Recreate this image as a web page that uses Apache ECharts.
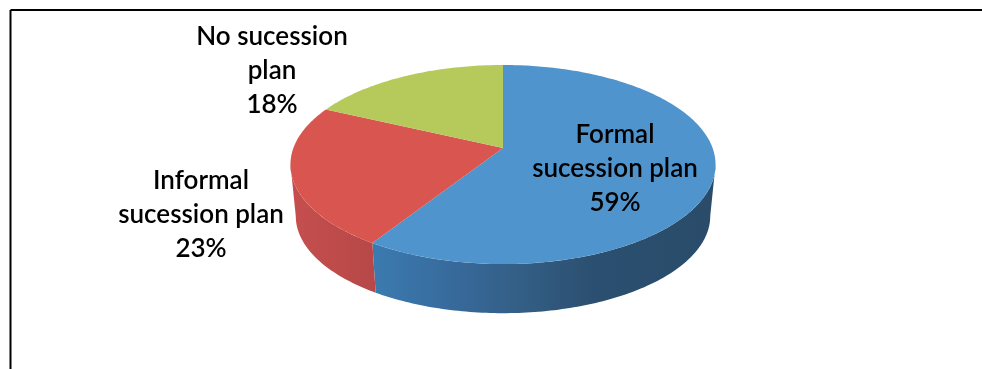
<!DOCTYPE html>
<html>
<head>
<meta charset="utf-8">
<style>html,body{margin:0;padding:0;background:#fff}#c{width:982px;height:369px;filter:blur(0.45px)}</style>
<script src="https://cdn.jsdelivr.net/npm/echarts@6/dist/echarts.min.js"></script>
</head>
<body>
<div id="c"></div>
<script>
const categories = ['Formal\nsucession plan', 'Informal\nsucession plan', 'No sucession\nplan'];
const percents = [59, 23, 18];
const topColors = ['#4f94cd', '#d95550', '#b5ca5b'];

// projective model of a tilted disc
const CX = 503, CY = 148, RX = 209.6, RY = 96.8, K = 0.166;
const SIDE_SCALE = 0.975, SIDE_DROP = 52;
const VIS_FROM = Math.acos(-K), VIS_TO = 2 * Math.PI - VIS_FROM;
const labelAnchors = [[615, 169], [201, 215], [272, 71]];

function project(a, lower) {
  const d = 1 + K * Math.cos(a);
  const x = RX * Math.sin(a) / d, y = -RY * Math.cos(a) / d;
  return lower
    ? [CX + x * SIDE_SCALE, CY + y * SIDE_SCALE + SIDE_DROP]
    : [CX + x, CY + y];
}
function arc(a0, a1, lower) {
  const n = Math.max(2, Math.ceil((a1 - a0) * 60)), pts = [];
  for (let i = 0; i <= n; i++) pts.push(project(a0 + (a1 - a0) * i / n, lower));
  return pts;
}
const total = percents.reduce((s, v) => s + v, 0);
let acc = 0;
const sliceData = percents.map((v, i) => {
  const s = acc; acc += v;
  return { name: categories[i], value: [s / total * 2 * Math.PI, acc / total * 2 * Math.PI, v] };
});
const sideFill = [
  new echarts.graphic.LinearGradient(372, 0, 716, 0, [
    { offset: 0, color: '#3b7bb0' },
    { offset: 0.25, color: '#37699a' },
    { offset: 0.42, color: '#345f86' },
    { offset: 0.65, color: '#2b4f70' },
    { offset: 1, color: '#2a4c6a' }
  ], true),
  new echarts.graphic.LinearGradient(291, 0, 375, 0, [
    { offset: 0, color: '#c54f4e' },
    { offset: 1, color: '#b64847' }
  ], true),
  '#8fa047'
];

const option = {
  animation: false,
  backgroundColor: '#ffffff',
  graphic: [
    { type: 'line', shape: { x1: 10.5, y1: 10, x2: 982, y2: 10 }, style: { stroke: '#000', lineWidth: 2 }, silent: true },
    { type: 'line', shape: { x1: 10.5, y1: 10, x2: 10.5, y2: 369 }, style: { stroke: '#000', lineWidth: 2 }, silent: true }
  ],
  series: [{
    type: 'custom',
    coordinateSystem: 'none',
    silent: true,
    data: sliceData,
    renderItem: function (params, api) {
      const i = params.dataIndex;
      const a0 = api.value(0), a1 = api.value(1), pct = api.value(2);
      const children = [];
      const v0 = Math.max(a0, VIS_FROM), v1 = Math.min(a1, VIS_TO);
      if (v1 > v0) {
        children.push({
          type: 'polygon', z2: 1,
          shape: { points: arc(v0, v1, false).concat(arc(v0, v1, true).reverse()) },
          style: { fill: sideFill[i] }
        });
      }
      children.push({
        type: 'polygon', z2: 2,
        shape: { points: [[CX, CY]].concat(arc(a0, a1, false)) },
        style: { fill: topColors[i] }
      });
      children.push({
        type: 'text', z2: 5,
        style: {
          x: labelAnchors[i][0], y: labelAnchors[i][1],
          text: categories[i] + '\n' + pct + '%',
          fill: '#000', align: 'center', verticalAlign: 'middle',
          font: '600 26px Lato', lineHeight: 34
        }
      });
      return { type: 'group', children };
    }
  }]
};
const chart = echarts.init(document.getElementById('c'), null, { renderer: 'canvas' });
chart.setOption(option);
</script>
</body>
</html>
